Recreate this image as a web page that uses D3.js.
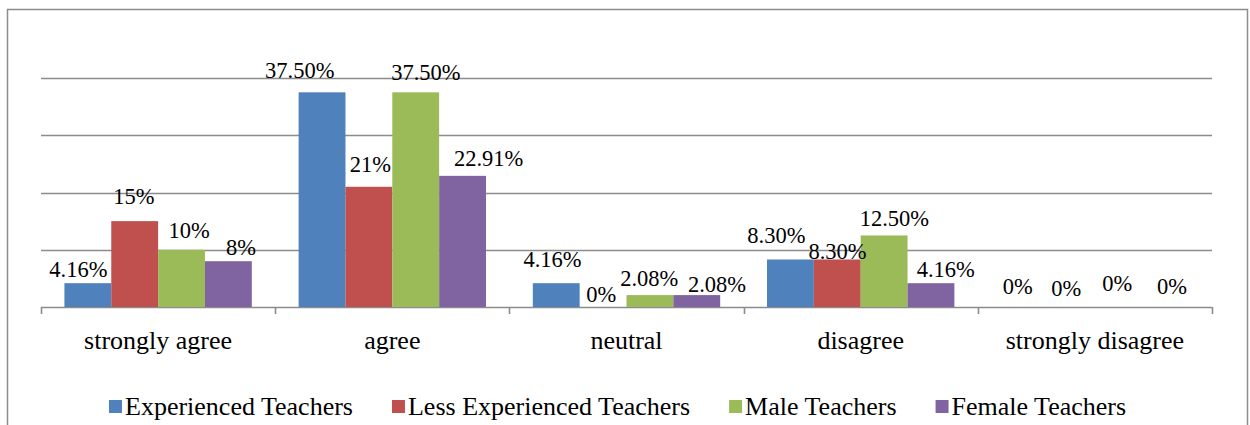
<!DOCTYPE html>
<html><head><meta charset="utf-8"><script src="https://cdn.jsdelivr.net/npm/d3@7"></script></head>
<body style="margin:0">
<svg id="s" width="1250" height="425"></svg>
<script>
// ---- data ----
const categories = ["strongly agree", "agree", "neutral", "disagree", "strongly disagree"];
const seriesNames = ["Experienced Teachers", "Less Experienced Teachers", "Male Teachers", "Female Teachers"];
const experienced     = [4.16, 37.5, 4.16, 8.3, 0];
const lessExperienced = [15, 21, 0, 8.3, 0];
const male            = [10, 37.5, 2.08, 12.5, 0];
const female          = [8, 22.91, 2.08, 4.16, 0];
const yTicks = [0, 10, 20, 30, 40];

const seriesValues = [experienced, lessExperienced, male, female];
const colors = ["#4F81BD", "#C0504D", "#9BBB59", "#8064A2"];

// manual label nudges (dx, dy from the bar-top centre), per series then category
const labelNudge = [
  [[-9.5, -6.5], [-22.3, -14.3], [-3.7, -16.5], [-14.1, -16.8], [-6.8, -13]],
  [[-0.7, -17.1], [1.4, -14.5], [-1.8, -5.3], [0.2, -0.5], [-5.3, -11.3]],
  [[7.5, -12], [10.1, -12.3], [-0.7, -9.1], [10.2, -9.4], [-1.1, -16]],
  [[12.6, -6.2], [26.1, -10.1], [20.2, -3.4], [14.8, -6.5], [6.8, -13]]
];

const svg = d3.select("#s");

svg.append("rect")
  .attr("x", 7.5).attr("y", 9.5)
  .attr("width", 1240).attr("height", 430)
  .attr("fill", "none").attr("stroke", "#8c8c8c").attr("stroke-width", 1.5);

const plotLeft = 41, plotRight = 1212, plotTop = 78, plotBottom = 307;

const x = d3.scaleBand().domain(categories).range([plotLeft, plotRight]).paddingInner(0).paddingOuter(0);
const xs = d3.scaleBand().domain(seriesNames).range([x.bandwidth() * 0.1, x.bandwidth() * 0.9]).padding(0);
const y = d3.scaleLinear().domain([0, 40]).range([plotBottom, plotTop]);

// gridlines + baseline
svg.append("g")
  .selectAll("line")
  .data(yTicks)
  .join("line")
  .attr("x1", plotLeft).attr("x2", plotRight)
  .attr("y1", d => Math.round(y(d)) + 0.5).attr("y2", d => Math.round(y(d)) + 0.5)
  .attr("stroke", "#8c8c8c").attr("stroke-width", 1.6);

const rows = [];
seriesValues.forEach((vals, s) => {
  vals.forEach((v, c) => rows.push({ s, c, v, cat: categories[c], name: seriesNames[s] }));
});

svg.append("g")
  .selectAll("rect")
  .data(rows)
  .join("rect")
  .attr("x", d => x(d.cat) + xs(d.name))
  .attr("y", d => y(d.v))
  .attr("width", xs.bandwidth())
  .attr("height", d => plotBottom - y(d.v))
  .attr("fill", d => colors[d.s]);

// category boundary ticks
const boundaries = categories.map(c => x(c)).concat([plotRight]);
svg.append("g").selectAll("line")
  .data(boundaries)
  .join("line")
  .attr("x1", d => Math.round(d) + 0.5).attr("x2", d => Math.round(d) + 0.5)
  .attr("y1", plotBottom).attr("y2", plotBottom + 7)
  .attr("stroke", "#8c8c8c").attr("stroke-width", 1.6);

svg.append("g").selectAll("text")
  .data(categories)
  .join("text")
  .attr("x", d => x(d) + x.bandwidth() / 2)
  .attr("y", 349)
  .attr("text-anchor", "middle")
  .attr("font-family", "Liberation Serif")
  .attr("font-size", 26)
  .style("font-family", "Liberation Serif")
  .text(d => d);

const fmt = v => (Number.isInteger(v) ? d3.format("d")(v) : d3.format(".2f")(v)) + "%";
svg.append("g").selectAll("text")
  .data(rows)
  .join("text")
  .attr("x", d => x(d.cat) + xs(d.name) + xs.bandwidth() / 2 + labelNudge[d.s][d.c][0])
  .attr("y", d => y(d.v) + labelNudge[d.s][d.c][1])
  .attr("text-anchor", "middle")
  .attr("font-family", "Liberation Serif")
  .attr("font-size", 22.5)
  .style("font-family", "Liberation Serif")
  .text(d => fmt(d.v));

const legend = svg.append("g");
let lx = 109;
seriesNames.forEach((name, i) => {
  legend.append("rect")
    .attr("x", lx).attr("y", 400)
    .attr("width", 13).attr("height", 13)
    .attr("fill", colors[i]);
  const t = legend.append("text")
    .attr("x", lx + 16).attr("y", 415)
    .attr("font-family", "Liberation Serif")
    .attr("font-size", 26)
    .style("font-family", "Liberation Serif")
    .text(name);
  lx += 16 + t.node().getComputedTextLength() + 39;
});
</script>
</body></html>
